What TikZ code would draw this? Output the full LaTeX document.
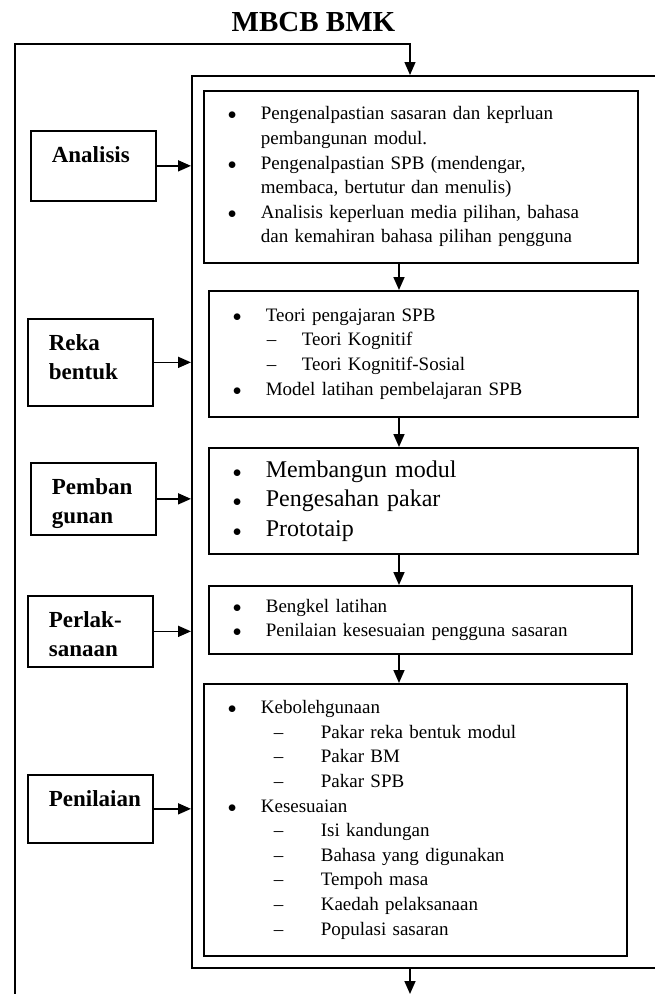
\documentclass[tikz,border=0pt]{standalone}
\usepackage{fontspec}
\setmainfont{Liberation Serif}
\usetikzlibrary{positioning}
\usetikzlibrary{arrows.meta}
\usetikzlibrary{calc}

\newcommand{\bul}{\hspace*{24pt}\makebox[33pt][l]{\fontsize{19pt}{19pt}\selectfont$\bullet$}}
\newcommand{\cont}{\hspace*{57pt}}
\newcommand{\dashA}{\hspace*{58pt}\makebox[35pt][l]{--}}
\newcommand{\dashB}{\hspace*{70pt}\makebox[47pt][l]{--}}

\begin{document}
\begin{tikzpicture}[
  x=1pt, y=-1pt,
  font=\fontsize{19pt}{24.6pt}\selectfont,
  listbox/.style={
    draw, line width=1.7pt,
    anchor=north west,
    inner sep=0pt,
    align=left
  },
  stagebox/.style={
    draw, line width=1.7pt,
    anchor=north west,
    inner xsep=21pt, inner ysep=0pt,
    text width=83pt, text height=32pt,
    align=left,
    font=\fontsize{23pt}{29pt}\selectfont\bfseries
  },
  framebox/.style={draw, line width=1.7pt, anchor=north west, inner sep=0pt,
    minimum width=475pt, minimum height=892pt},
  arrow/.style={line width=1.7pt, -{Triangle[length=13pt,width=11pt]}},
  loopline/.style={line width=1.3pt, -{Triangle[length=13pt,width=11pt]}}
]
\useasboundingbox (0,0) rectangle (654,994);

% --- Title ---
\node[font=\fontsize{29pt}{29pt}\selectfont\bfseries] (T) at (313.5,22.5) {MBCB BMK};

% --- Outer frame (right side runs off the page) ---
\node[framebox] (F) at (191,75) {};

% --- Content boxes ---
\node[listbox, text width=434pt, minimum height=172pt] (C1) at (203,90) {%
  \bul Pengenalpastian sasaran dan keprluan\\
  \cont pembangunan modul.\\
  \bul Pengenalpastian SPB (mendengar,\\
  \cont membaca, bertutur dan menulis)\\
  \bul Analisis keperluan media pilihan, bahasa\\
  \cont dan kemahiran bahasa pilihan pengguna%
};

\node[listbox, text width=429pt, minimum height=126pt] (C2) at (208,290) {%
  \bul Teori pengajaran SPB\\
  \dashA Teori Kognitif\\
  \dashA Teori Kognitif-Sosial\\
  \bul Model latihan pembelajaran SPB%
};

\node[listbox, text width=429pt, minimum height=106pt,
  font=\fontsize{24pt}{29.5pt}\selectfont] (C3) at (208,447) {%
  \bul Membangun modul\\
  \bul Pengesahan pakar\\
  \bul Prototaip%
};

\node[listbox, text width=423pt, minimum height=68pt] (C4) at (208,585) {%
  \bul Bengkel latihan\\
  \bul Penilaian kesesuaian pengguna sasaran%
};

\node[listbox, text width=423pt, minimum height=272pt] (C5) at (203,683) {%
  \bul Kebolehgunaan\\
  \dashB Pakar reka bentuk modul\\
  \dashB Pakar BM\\
  \dashB Pakar SPB\\
  \bul Kesesuaian\\
  \dashB Isi kandungan\\
  \dashB Bahasa yang digunakan\\
  \dashB Tempoh masa\\
  \dashB Kaedah pelaksanaan\\
  \dashB Populasi sasaran%
};

% --- Stage boxes on the left ---
\node[stagebox, text depth=38pt] (Ana) at (30,130) {Analisis};
\node[stagebox, text depth=55pt] (Rek) at (27,318) {Reka\\bentuk};
\node[stagebox, text depth=40pt] (Pem) at (30,462) {Pemban\\gunan};
\node[stagebox, text depth=39pt] (Per) at (27,595) {Perlak-\\sanaan};
\node[stagebox, text depth=36pt] (Pen) at (27,774) {Penilaian};

% --- Stage arrows into the frame ---
\foreach \s in {Ana,Rek,Pem,Per,Pen}
  \draw[arrow] (\s.east) -- (\s.east -| F.west);

% --- Flow between content boxes ---
\coordinate (mid) at (399,0);
\draw[arrow] (C1.south -| mid) -- (C2.north -| mid);
\draw[arrow] (C2.south -| mid) -- (C3.north -| mid);
\draw[arrow] (C3.south -| mid) -- (C4.north -| mid);
\draw[arrow] (C4.south -| mid) -- (C5.north -| mid);

% --- Feedback loop and exit ---
\coordinate (loop) at (15,1000);
\coordinate (turn) at (410,44);
\coordinate (out) at (410,994);
\draw[loopline] (loop) |- (turn) -- (turn |- F.north);
\draw[arrow] (F.south -| out) -- (out);

\end{tikzpicture}
\end{document}
